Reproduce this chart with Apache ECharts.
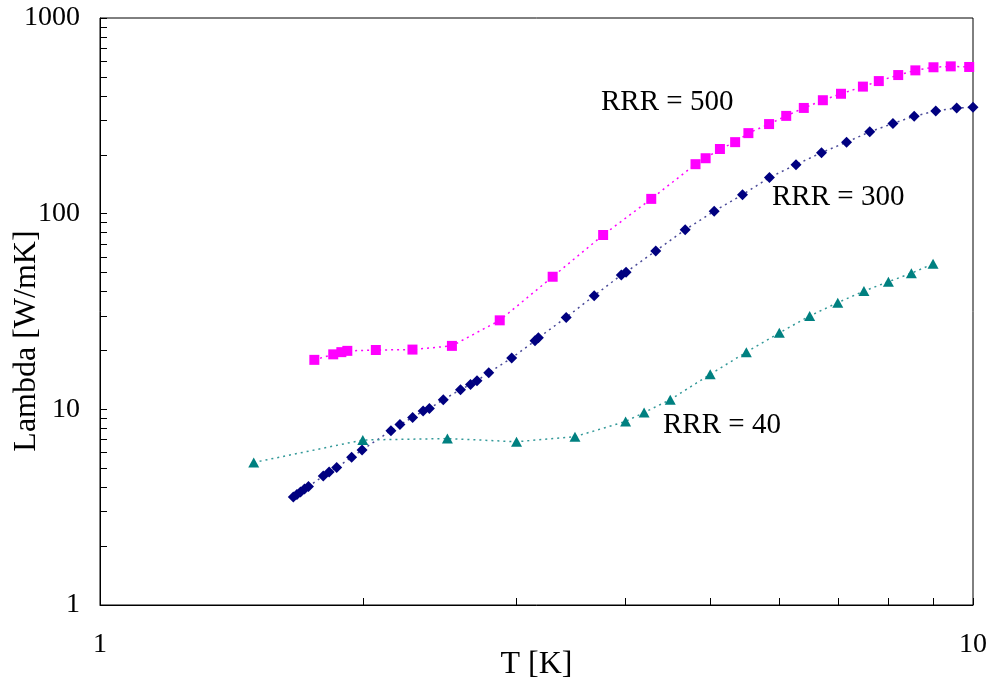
<!DOCTYPE html>
<html><head><meta charset="utf-8">
<script src="https://cdn.jsdelivr.net/npm/echarts@6/dist/echarts.min.js"></script>
<style>html,body{margin:0;padding:0;background:#fff}#c{width:990px;height:681px}</style>
</head><body><div id="c"></div>
<script>
// Data (T in K, Lambda in W/mK)
const T500 = [1.76, 1.85, 1.89, 1.92, 2.07, 2.28, 2.53, 2.87, 3.30, 3.77, 4.28, 4.81, 4.94, 5.13, 5.34, 5.53, 5.84, 6.11, 6.40, 6.73, 7.06, 7.48, 7.80, 8.21, 8.59, 9.01, 9.43, 9.90];
const L500 = [17.9, 19.1, 19.6, 19.9, 20.1, 20.2, 21.1, 28.5, 47.6, 77.8, 119, 179, 192, 214, 232, 258, 287, 316, 347, 380, 410, 446, 476, 511, 540, 560, 566, 562];
const T300 = [1.665, 1.681, 1.697, 1.715, 1.733, 1.802, 1.830, 1.867, 1.942, 1.996, 2.154, 2.206, 2.281, 2.345, 2.384, 2.473, 2.588, 2.657, 2.703, 2.788, 2.962, 3.150, 3.178, 3.420, 3.682, 3.955, 4.005, 4.331, 4.681, 5.053, 5.445, 5.846, 6.270, 6.706, 7.164, 7.616, 8.097, 8.563, 9.064, 9.579, 10.0];
const L300 = [3.56, 3.67, 3.78, 3.92, 4.03, 4.56, 4.78, 5.04, 5.69, 6.20, 7.78, 8.36, 9.08, 9.81, 10.1, 11.2, 12.6, 13.4, 14.0, 15.4, 18.3, 22.4, 23.2, 29.5, 38.1, 48.6, 50.2, 64.5, 82.8, 103, 125, 153, 178, 205, 232, 262, 289, 315, 335, 347, 350];
const T40 = [1.5, 2.0, 2.5, 3.0, 3.5, 4.0, 4.2, 4.5, 5.0, 5.5, 6.0, 6.5, 7.0, 7.5, 8.0, 8.5, 9.0];
const L40 = [5.35, 6.97, 7.09, 6.83, 7.25, 8.67, 9.63, 11.2, 15.1, 19.6, 24.6, 30.0, 35.1, 40.2, 44.9, 49.6, 55.4];
const seriesNames = ['RRR = 500', 'RRR = 300', 'RRR = 40'];
const xName = 'T [K]';
const yName = 'Lambda [W/mK]';

const FONT = '"Liberation Serif", "Times New Roman", serif';
function pairs(t, l) { return t.map((v, i) => [v, l[i]]); }

const chart = echarts.init(document.getElementById('c'), null, {renderer: 'canvas'});
const tickStyle = {color: '#000', width: 1};
chart.setOption({
  animation: false,
  backgroundColor: '#fff',
  grid: {left: 100, right: 17, top: 18, bottom: 76, containLabel: false, outerBoundsMode: 'none',
         show: true, borderColor: '#000', borderWidth: 1, backgroundColor: 'transparent'},
  xAxis: {
    type: 'log', logBase: 10, min: 1, max: 10,
    name: xName, nameLocation: 'middle', nameGap: 44, nameMoveOverlap: false,
    nameTextStyle: {fontFamily: FONT, fontSize: 32, color: '#000'},
    axisLine: {show: true, lineStyle: {color: '#000', width: 1}},
    axisTick: {show: true, inside: true, length: 7, lineStyle: tickStyle},
    minorTick: {show: true, splitNumber: 9, length: 7, lineStyle: tickStyle},
    axisLabel: {fontFamily: FONT, fontSize: 28, color: '#000', margin: 26, formatter: v => String(v)},
    splitLine: {show: false}, minorSplitLine: {show: false}
  },
  yAxis: {
    type: 'log', logBase: 10, min: 1, max: 1000,
    axisLine: {show: true, lineStyle: {color: '#000', width: 1}},
    axisTick: {show: true, inside: true, length: 7, lineStyle: tickStyle},
    minorTick: {show: true, splitNumber: 9, length: 7, lineStyle: tickStyle},
    axisLabel: {fontFamily: FONT, fontSize: 28, color: '#000', margin: 20, formatter: v => String(v)},
    splitLine: {show: false}, minorSplitLine: {show: false}
  },
  graphic: [
    {type: 'text', x: 27, y: 341, rotation: Math.PI / 2, style: {text: yName, font: '32px ' + FONT, fill: '#000', align: 'center', verticalAlign: 'middle'}},
    {type: 'text', x: 601, y: 102, style: {text: seriesNames[0], font: '29px ' + FONT, fill: '#000', align: 'left', verticalAlign: 'middle'}},
    {type: 'text', x: 772, y: 197, style: {text: seriesNames[1], font: '29px ' + FONT, fill: '#000', align: 'left', verticalAlign: 'middle'}},
    {type: 'text', x: 663, y: 425, style: {text: seriesNames[2], font: '29px ' + FONT, fill: '#000', align: 'left', verticalAlign: 'middle'}}
  ],
  series: [
    {type: 'line', name: seriesNames[0], data: pairs(T500, L500), symbol: 'rect', symbolSize: 10,
     itemStyle: {color: '#FF00FF'}, lineStyle: {color: '#FF00FF', width: 1.5, type: [2, 4]}},
    {type: 'line', name: seriesNames[1], data: pairs(T300, L300), symbol: 'diamond', symbolSize: [11, 11],
     itemStyle: {color: '#000080'}, lineStyle: {color: '#4a4a99', width: 1.5, type: [2, 4]}},
    {type: 'line', name: seriesNames[2], data: pairs(T40, L40), symbol: 'triangle', symbolSize: [11, 10],
     itemStyle: {color: '#008080'}, lineStyle: {color: '#339999', width: 1.5, type: [2, 4]}}
  ]
});
</script></body></html>
